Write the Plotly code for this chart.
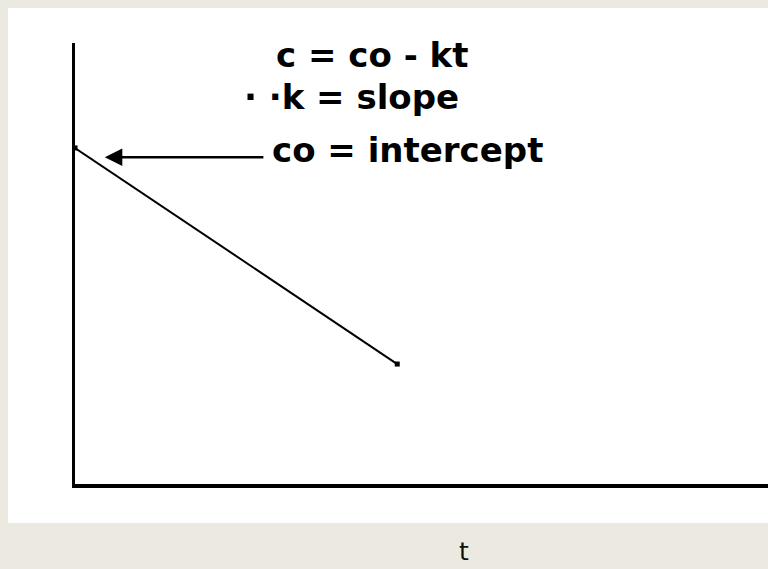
import plotly.graph_objects as go

# Data (arbitrary units)
t_values = [0.0, 4.65]
c_values = [7.62, 2.72]
intercept_arrow_t = [0.43, 2.74]   # arrow tip, arrow tail (t)
intercept_arrow_c = 7.41

labels = ["c = co - kt", "· ·k = slope", "co = intercept"]
x_label = "t"

W, H = 768, 569
def px(x):
    return x / W
def py(y):
    return 1 - y / H

fig = go.Figure()
fig.add_trace(go.Scatter(
    x=t_values, y=c_values, mode="lines+markers",
    line=dict(color="black", width=2),
    marker=dict(color="black", size=5, symbol="square"),
    hoverinfo="skip", showlegend=False,
))

# arrow pointing at the intercept
fig.add_annotation(
    x=intercept_arrow_t[0], y=intercept_arrow_c, ax=intercept_arrow_t[1], ay=intercept_arrow_c,
    xref="x", yref="y", axref="x", ayref="y", text="",
    showarrow=True, arrowhead=2, arrowsize=1.4, arrowwidth=2.5, arrowcolor="black",
)

font_b = dict(family="DejaVu Sans", size=34, color="black", weight="bold")
text_pos = [(274, 55), (242, 97), (270, 150)]
for lab, (x, y) in zip(labels, text_pos):
    fig.add_annotation(text=lab, x=px(x), y=py(y), xref="paper", yref="paper",
                       xanchor="left", yanchor="middle", showarrow=False, font=font_b)

fig.add_annotation(text=x_label, x=px(464), y=py(551), xref="paper", yref="paper",
                   xanchor="center", yanchor="middle", showarrow=False,
                   font=dict(family="DejaVu Sans", size=25, color="#111111"))

# white panel
fig.add_shape(type="rect", xref="paper", yref="paper", x0=px(8), x1=1, y0=py(523), y1=py(8),
              fillcolor="white", line=dict(width=0), layer="below")

fig.update_layout(
    width=W, height=H, margin=dict(l=0, r=0, t=0, b=0),
    paper_bgcolor="#ECEAE0", plot_bgcolor="rgba(0,0,0,0)",
    xaxis=dict(domain=[px(75), 1], range=[0, 10], showgrid=False, zeroline=False,
               showticklabels=False, ticks="", showline=True, linecolor="black", linewidth=4),
    yaxis=dict(domain=[py(484), py(43)], range=[0, 10], showgrid=False, zeroline=False,
               showticklabels=False, ticks="", showline=True, linecolor="black", linewidth=3),
)

fig.write_html("out.html", config={"displayModeBar": False},
               post_script="document.body.style.margin='0px';document.body.style.overflow='hidden';")
